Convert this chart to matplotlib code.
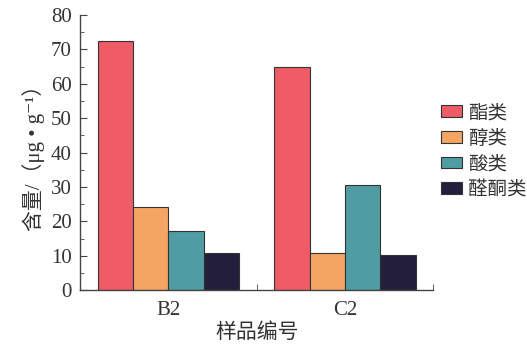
import numpy as np
import matplotlib
matplotlib.use('Agg')
from matplotlib import pyplot as plt
from matplotlib.ticker import MultipleLocator, FixedLocator

plt.rcParams['font.family'] = ['Liberation Serif', 'Noto Sans CJK SC', 'DejaVu Sans']

# Data
samples = ['B2', 'C2']
series = ['酯类', '醇类', '酸类', '醛酮类']
esters = [72.5, 65.0]
alcohols = [24.2, 10.9]
acids = [17.1, 30.7]
ketones = [10.7, 10.2]
colors = ['#EF5C66', '#F4A463', '#4F9DA3', '#231E3B']

values = [esters, alcohols, acids, ketones]

fig = plt.figure(figsize=(5.27, 3.5), dpi=100)
ax = fig.add_axes([0.152, 0.171, 0.670, 0.786])

x = np.arange(len(samples))
width = 0.2
for i, (name, vals, col) in enumerate(zip(series, values, colors)):
    ax.bar(x + (i - 1.5) * width, vals, width, color=col, edgecolor='#333333',
           linewidth=0.8, label=name)

ax.set_xlim(-0.5, 1.5)
ax.set_ylim(0, 80)
ax.set_xticks(x)
ax.set_xticklabels(samples)
ax.xaxis.set_minor_locator(FixedLocator([0.5, 1.5]))
ax.yaxis.set_major_locator(MultipleLocator(10))
ax.yaxis.set_minor_locator(MultipleLocator(5))

for side in ['top', 'right']:
    ax.spines[side].set_visible(False)
for side in ['left', 'bottom']:
    ax.spines[side].set_color('#444444')
    ax.spines[side].set_linewidth(1.0)

ax.tick_params(axis='y', which='major', direction='in', length=5, labelsize=15,
               color='#444444', pad=6)
ax.tick_params(axis='y', which='minor', direction='in', length=3, color='#444444')
ax.tick_params(axis='x', which='major', length=0, labelsize=15, pad=8)
ax.tick_params(axis='x', which='minor', direction='in', length=4, color='#444444')

ax.set_xlabel('样品编号', fontsize=15, labelpad=2, color='#333333')
ax.set_ylabel('含量/（μg • g⁻¹）', fontsize=15, labelpad=4, color='#333333')
for lbl in ax.get_xticklabels() + ax.get_yticklabels():
    lbl.set_color('#333333')

leg = fig.legend(loc='center left', bbox_to_anchor=(0.822, 0.566), frameon=False,
                 fontsize=14, handlelength=1.1, handleheight=0.55,
                 handletextpad=0.3, labelspacing=0.4, borderaxespad=0)
for t in leg.get_texts():
    t.set_color('#333333')

fig.savefig('out.png', dpi=100)
plt.close(fig)
